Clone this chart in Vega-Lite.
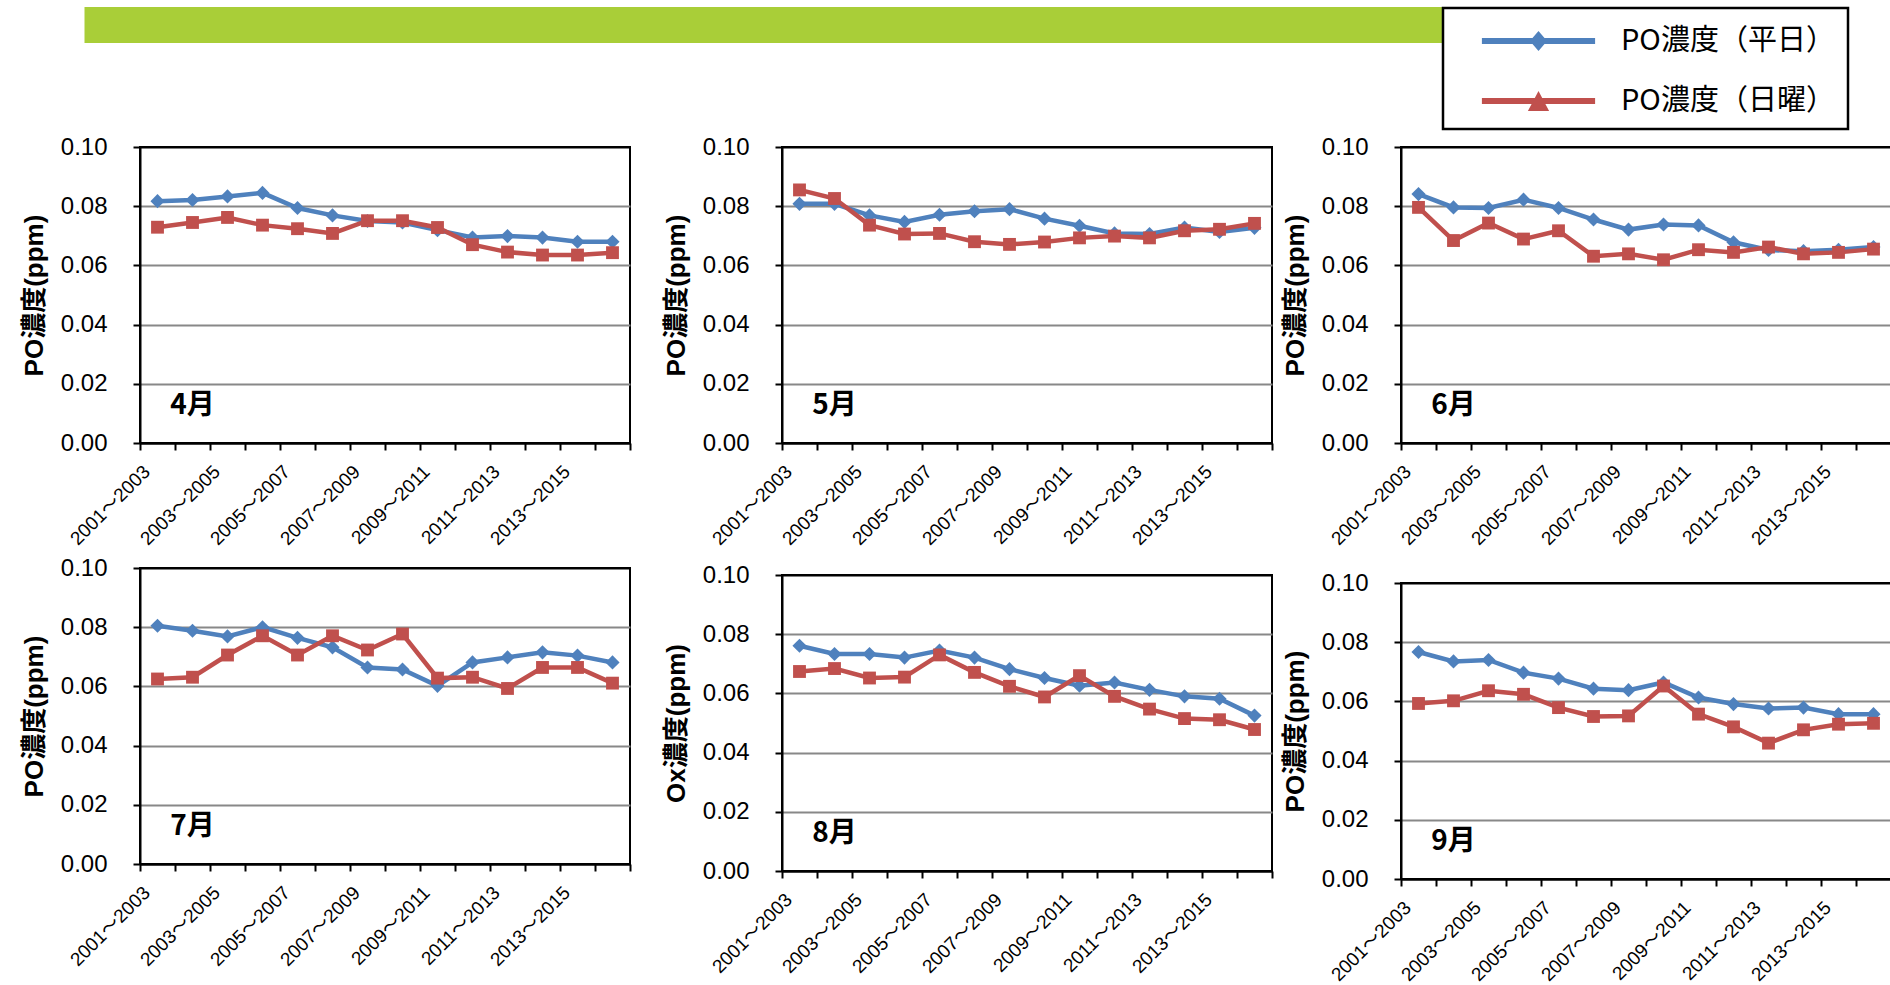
{
  "$schema": "https://vega.github.io/schema/vega-lite/v6.json",
  "background": "white",
  "padding": {"left": 13, "top": 6, "right": 0, "bottom": 0},
  "datasets": {
    "po": [
      {"month":"4月","period":"2001～2003","PO濃度（平日）":0.0817,"PO濃度（日曜）":0.0729},
      {"month":"4月","period":"2002～2004","PO濃度（平日）":0.0821,"PO濃度（日曜）":0.0745},
      {"month":"4月","period":"2003～2005","PO濃度（平日）":0.0833,"PO濃度（日曜）":0.0762},
      {"month":"4月","period":"2004～2006","PO濃度（平日）":0.0845,"PO濃度（日曜）":0.0736},
      {"month":"4月","period":"2005～2007","PO濃度（平日）":0.0794,"PO濃度（日曜）":0.0724},
      {"month":"4月","period":"2006～2008","PO濃度（平日）":0.0769,"PO濃度（日曜）":0.0708},
      {"month":"4月","period":"2007～2009","PO濃度（平日）":0.0750,"PO濃度（日曜）":0.0751},
      {"month":"4月","period":"2008～2010","PO濃度（平日）":0.0745,"PO濃度（日曜）":0.0751},
      {"month":"4月","period":"2009～2011","PO濃度（平日）":0.0719,"PO濃度（日曜）":0.0728},
      {"month":"4月","period":"2010～2012","PO濃度（平日）":0.0694,"PO濃度（日曜）":0.0670},
      {"month":"4月","period":"2011～2013","PO濃度（平日）":0.0699,"PO濃度（日曜）":0.0645},
      {"month":"4月","period":"2012～2014","PO濃度（平日）":0.0694,"PO濃度（日曜）":0.0635},
      {"month":"4月","period":"2013～2015","PO濃度（平日）":0.0680,"PO濃度（日曜）":0.0635},
      {"month":"4月","period":"2014～2016","PO濃度（平日）":0.0680,"PO濃度（日曜）":0.0643},
      {"month":"5月","period":"2001～2003","PO濃度（平日）":0.0808,"PO濃度（日曜）":0.0855},
      {"month":"5月","period":"2002～2004","PO濃度（平日）":0.0808,"PO濃度（日曜）":0.0826},
      {"month":"5月","period":"2003～2005","PO濃度（平日）":0.0769,"PO濃度（日曜）":0.0736},
      {"month":"5月","period":"2004～2006","PO濃度（平日）":0.0747,"PO濃度（日曜）":0.0706},
      {"month":"5月","period":"2005～2007","PO濃度（平日）":0.0771,"PO濃度（日曜）":0.0708},
      {"month":"5月","period":"2006～2008","PO濃度（平日）":0.0783,"PO濃度（日曜）":0.0680},
      {"month":"5月","period":"2007～2009","PO濃度（平日）":0.0790,"PO濃度（日曜）":0.0671},
      {"month":"5月","period":"2008～2010","PO濃度（平日）":0.0758,"PO濃度（日曜）":0.0679},
      {"month":"5月","period":"2009～2011","PO濃度（平日）":0.0734,"PO濃度（日曜）":0.0693},
      {"month":"5月","period":"2010～2012","PO濃度（平日）":0.0708,"PO濃度（日曜）":0.0699},
      {"month":"5月","period":"2011～2013","PO濃度（平日）":0.0706,"PO濃度（日曜）":0.0693},
      {"month":"5月","period":"2012～2014","PO濃度（平日）":0.0728,"PO濃度（日曜）":0.0717},
      {"month":"5月","period":"2013～2015","PO濃度（平日）":0.0713,"PO濃度（日曜）":0.0722},
      {"month":"5月","period":"2014～2016","PO濃度（平日）":0.0727,"PO濃度（日曜）":0.0742},
      {"month":"6月","period":"2001～2003","PO濃度（平日）":0.0841,"PO濃度（日曜）":0.0796},
      {"month":"6月","period":"2002～2004","PO濃度（平日）":0.0796,"PO濃度（日曜）":0.0684},
      {"month":"6月","period":"2003～2005","PO濃度（平日）":0.0794,"PO濃度（日曜）":0.0743},
      {"month":"6月","period":"2004～2006","PO濃度（平日）":0.0822,"PO濃度（日曜）":0.0689},
      {"month":"6月","period":"2005～2007","PO濃度（平日）":0.0794,"PO濃度（日曜）":0.0717},
      {"month":"6月","period":"2006～2008","PO濃度（平日）":0.0755,"PO濃度（日曜）":0.0631},
      {"month":"6月","period":"2007～2009","PO濃度（平日）":0.0721,"PO濃度（日曜）":0.0639},
      {"month":"6月","period":"2008～2010","PO濃度（平日）":0.0738,"PO濃度（日曜）":0.0619},
      {"month":"6月","period":"2009～2011","PO濃度（平日）":0.0735,"PO濃度（日曜）":0.0653},
      {"month":"6月","period":"2010～2012","PO濃度（平日）":0.0678,"PO濃度（日曜）":0.0644},
      {"month":"6月","period":"2011～2013","PO濃度（平日）":0.0652,"PO濃度（日曜）":0.0662},
      {"month":"6月","period":"2012～2014","PO濃度（平日）":0.0648,"PO濃度（日曜）":0.0639},
      {"month":"6月","period":"2013～2015","PO濃度（平日）":0.0653,"PO濃度（日曜）":0.0644},
      {"month":"6月","period":"2014～2016","PO濃度（平日）":0.0662,"PO濃度（日曜）":0.0655},
      {"month":"7月","period":"2001～2003","PO濃度（平日）":0.0805,"PO濃度（日曜）":0.0625},
      {"month":"7月","period":"2002～2004","PO濃度（平日）":0.0788,"PO濃度（日曜）":0.0631},
      {"month":"7月","period":"2003～2005","PO濃度（平日）":0.0769,"PO濃度（日曜）":0.0706},
      {"month":"7月","period":"2004～2006","PO濃度（平日）":0.0800,"PO濃度（日曜）":0.0771},
      {"month":"7月","period":"2005～2007","PO濃度（平日）":0.0764,"PO濃度（日曜）":0.0706},
      {"month":"7月","period":"2006～2008","PO濃度（平日）":0.0732,"PO濃度（日曜）":0.0771},
      {"month":"7月","period":"2007～2009","PO濃度（平日）":0.0664,"PO濃度（日曜）":0.0723},
      {"month":"7月","period":"2008～2010","PO濃度（平日）":0.0657,"PO濃度（日曜）":0.0777},
      {"month":"7月","period":"2009～2011","PO濃度（平日）":0.0602,"PO濃度（日曜）":0.0628},
      {"month":"7月","period":"2010～2012","PO濃度（平日）":0.0681,"PO濃度（日曜）":0.0631},
      {"month":"7月","period":"2011～2013","PO濃度（平日）":0.0698,"PO濃度（日曜）":0.0593},
      {"month":"7月","period":"2012～2014","PO濃度（平日）":0.0715,"PO濃度（日曜）":0.0664},
      {"month":"7月","period":"2013～2015","PO濃度（平日）":0.0704,"PO濃度（日曜）":0.0664},
      {"month":"7月","period":"2014～2016","PO濃度（平日）":0.0681,"PO濃度（日曜）":0.0611},
      {"month":"8月","period":"2001～2003","PO濃度（平日）":0.0761,"PO濃度（日曜）":0.0674},
      {"month":"8月","period":"2002～2004","PO濃度（平日）":0.0733,"PO濃度（日曜）":0.0684},
      {"month":"8月","period":"2003～2005","PO濃度（平日）":0.0733,"PO濃度（日曜）":0.0652},
      {"month":"8月","period":"2004～2006","PO濃度（平日）":0.0721,"PO濃度（日曜）":0.0655},
      {"month":"8月","period":"2005～2007","PO濃度（平日）":0.0745,"PO濃度（日曜）":0.0730},
      {"month":"8月","period":"2006～2008","PO濃度（平日）":0.0721,"PO濃度（日曜）":0.0671},
      {"month":"8月","period":"2007～2009","PO濃度（平日）":0.0682,"PO濃度（日曜）":0.0624},
      {"month":"8月","period":"2008～2010","PO濃度（平日）":0.0652,"PO濃度（日曜）":0.0588},
      {"month":"8月","period":"2009～2011","PO濃度（平日）":0.0626,"PO濃度（日曜）":0.0660},
      {"month":"8月","period":"2010～2012","PO濃度（平日）":0.0637,"PO濃度（日曜）":0.0590},
      {"month":"8月","period":"2011～2013","PO濃度（平日）":0.0612,"PO濃度（日曜）":0.0547},
      {"month":"8月","period":"2012～2014","PO濃度（平日）":0.0590,"PO濃度（日曜）":0.0515},
      {"month":"8月","period":"2013～2015","PO濃度（平日）":0.0582,"PO濃度（日曜）":0.0511},
      {"month":"8月","period":"2014～2016","PO濃度（平日）":0.0525,"PO濃度（日曜）":0.0478},
      {"month":"9月","period":"2001～2003","PO濃度（平日）":0.0767,"PO濃度（日曜）":0.0593},
      {"month":"9月","period":"2002～2004","PO濃度（平日）":0.0735,"PO濃度（日曜）":0.0602},
      {"month":"9月","period":"2003～2005","PO濃度（平日）":0.0740,"PO濃度（日曜）":0.0636},
      {"month":"9月","period":"2004～2006","PO濃度（平日）":0.0697,"PO濃度（日曜）":0.0624},
      {"month":"9月","period":"2005～2007","PO濃度（平日）":0.0677,"PO濃度（日曜）":0.0579},
      {"month":"9月","period":"2006～2008","PO濃度（平日）":0.0643,"PO濃度（日曜）":0.0549},
      {"month":"9月","period":"2007～2009","PO濃度（平日）":0.0638,"PO濃度（日曜）":0.0551},
      {"month":"9月","period":"2008～2010","PO濃度（平日）":0.0664,"PO濃度（日曜）":0.0652},
      {"month":"9月","period":"2009～2011","PO濃度（平日）":0.0613,"PO濃度（日曜）":0.0557},
      {"month":"9月","period":"2010～2012","PO濃度（平日）":0.0591,"PO濃度（日曜）":0.0514},
      {"month":"9月","period":"2011～2013","PO濃度（平日）":0.0576,"PO濃度（日曜）":0.0459},
      {"month":"9月","period":"2012～2014","PO濃度（平日）":0.0579,"PO濃度（日曜）":0.0504},
      {"month":"9月","period":"2013～2015","PO濃度（平日）":0.0557,"PO濃度（日曜）":0.0523},
      {"month":"9月","period":"2014～2016","PO濃度（平日）":0.0557,"PO濃度（日曜）":0.0526}
    ]
  },
  "spacing": 91,
  "center": true,
  "vconcat": [
    {
      "width": 1740, "height": 36,
      "data": {"values": [{}]},
      "view": {"stroke": null, "fill": "#A9CE38"},
      "mark": {"type": "point", "opacity": 0},
      "encoding": {}
    },
    {
      "spacing": 0,
      "hconcat": [
        {
          "width": 1, "height": 10,
          "data": {"values": [{}]},
          "view": {"stroke": null},
          "mark": {"type": "point", "opacity": 0},
          "encoding": {}
        },
        {
          "spacing": 30,
          "hconcat": [
            {
              "spacing": 5,
              "vconcat": [
                {
                  "width": 490, "height": 296, "data": {"name": "po"},
                  "layer": [
                    {
                      "transform": [{"filter": {"field": "month", "equal": "4月"}}, {"fold": ["PO濃度（平日）", "PO濃度（日曜）"], "as": ["series", "value"]}],
                      "layer": [
                        {"mark": {"type": "line", "strokeWidth": 4.5}, "encoding": {
                          "x": {"field": "period", "type": "ordinal", "title": null, "scale": {"type": "band", "domain": ["2001～2003","2002～2004","2003～2005","2004～2006","2005～2007","2006～2008","2007～2009","2008～2010","2009～2011","2010～2012","2011～2013","2012～2014","2013～2015","2014～2016"], "paddingInner": 0, "paddingOuter": 0}, "axis": {"labelExpr": "toNumber(substring(datum.value, 0, 4)) % 2 == 1 ? datum.label : ''", "tickBand": "extent"}},
                          "y": {"field": "value", "type": "quantitative", "title": "PO濃度(ppm)", "scale": {"domain": [0, 0.1], "nice": false}, "axis": {"values": [0, 0.02, 0.04, 0.06, 0.08, 0.1], "format": ".2f", "gridColor": {"condition": {"test": "datum.value <= 0 || datum.value >= 0.1", "value": "black"}, "value": "#888888"}}},
                          "color": {"field": "series", "type": "nominal", "scale": {"domain": ["PO濃度（平日）", "PO濃度（日曜）"], "range": ["#4F81BD", "#C0504D"]},
                            "legend": {
                              "title": null, "orient": "none", "legendX": 1427, "legendY": 1, "direction": "vertical",
                              "padding": 13, "strokeColor": "black", "fillColor": "white",
                              "symbolSize": 1600, "symbolOffset": 62.5, "labelOffset": 62.5, "rowPadding": 25,
                              "labelFont": "Noto Sans CJK JP", "labelFontSize": 29, "labelColor": "black", "labelLimit": 400,
                              "labelExpr": "datum.label + '\u3000'",
                              "encode": {
                                "legend": {"update": {"strokeWidth": {"value": 2.5}}},
                                "symbols": {"update": {
                                  "shape": {"signal": "datum.value === 'PO濃度（平日）' ? 'M-2.83,-0.15H2.83V0.15H-2.83Z M0,-0.5L0.43,0L0,0.5L-0.43,0Z' : 'M-2.83,-0.15H2.83V0.15H-2.83Z M0,-0.5L0.53,0.5L-0.53,0.5Z'"},
                                  "fill": {"signal": "datum.value === 'PO濃度（平日）' ? '#4F81BD' : '#C0504D'"},
                                  "strokeWidth": {"value": 0},
                                  "opacity": {"value": 1}
                                }}
                              }
                            }
                          }
                        }},
                        {"transform": [{"filter": {"field": "series", "equal": "PO濃度（平日）"}}], "mark": {"type": "point", "shape": "diamond", "filled": true, "opacity": 1, "size": 200, "strokeWidth": 0, "color": "#4F81BD"}, "encoding": {
                          "x": {"field": "period", "type": "ordinal", "title": null},
                          "y": {"field": "value", "type": "quantitative", "title": "PO濃度(ppm)"}
                        }},
                        {"transform": [{"filter": {"field": "series", "equal": "PO濃度（日曜）"}}], "mark": {"type": "point", "shape": "square", "filled": true, "opacity": 1, "size": 165, "strokeWidth": 0, "color": "#C0504D"}, "encoding": {
                          "x": {"field": "period", "type": "ordinal", "title": null},
                          "y": {"field": "value", "type": "quantitative", "title": "PO濃度(ppm)"}
                        }}
                      ]
                    },
                    {"data": {"values": [{"label": "4月"}]}, "mark": {"type": "text", "font": "Noto Sans CJK JP", "fontSize": 28, "fontWeight": "bold", "color": "black", "align": "center", "baseline": "middle"},
                     "encoding": {"x": {"datum": "2002～2004", "type": "ordinal"}, "y": {"datum": 0.0125, "type": "quantitative"}, "text": {"field": "label", "type": "nominal"}}}
                  ]
                },
                {
                  "width": 490, "height": 296, "data": {"name": "po"},
                  "layer": [
                    {
                      "transform": [{"filter": {"field": "month", "equal": "7月"}}, {"fold": ["PO濃度（平日）", "PO濃度（日曜）"], "as": ["series", "value"]}],
                      "layer": [
                        {"mark": {"type": "line", "strokeWidth": 4.5}, "encoding": {
                          "x": {"field": "period", "type": "ordinal", "title": null, "scale": {"type": "band", "domain": ["2001～2003","2002～2004","2003～2005","2004～2006","2005～2007","2006～2008","2007～2009","2008～2010","2009～2011","2010～2012","2011～2013","2012～2014","2013～2015","2014～2016"], "paddingInner": 0, "paddingOuter": 0}, "axis": {"labelExpr": "toNumber(substring(datum.value, 0, 4)) % 2 == 1 ? datum.label : ''", "tickBand": "extent"}},
                          "y": {"field": "value", "type": "quantitative", "title": "PO濃度(ppm)", "scale": {"domain": [0, 0.1], "nice": false}, "axis": {"values": [0, 0.02, 0.04, 0.06, 0.08, 0.1], "format": ".2f", "gridColor": {"condition": {"test": "datum.value <= 0 || datum.value >= 0.1", "value": "black"}, "value": "#888888"}}},
                          "color": {"field": "series", "type": "nominal"}
                        }},
                        {"transform": [{"filter": {"field": "series", "equal": "PO濃度（平日）"}}], "mark": {"type": "point", "shape": "diamond", "filled": true, "opacity": 1, "size": 200, "strokeWidth": 0, "color": "#4F81BD"}, "encoding": {
                          "x": {"field": "period", "type": "ordinal", "title": null},
                          "y": {"field": "value", "type": "quantitative", "title": "PO濃度(ppm)"}
                        }},
                        {"transform": [{"filter": {"field": "series", "equal": "PO濃度（日曜）"}}], "mark": {"type": "point", "shape": "square", "filled": true, "opacity": 1, "size": 165, "strokeWidth": 0, "color": "#C0504D"}, "encoding": {
                          "x": {"field": "period", "type": "ordinal", "title": null},
                          "y": {"field": "value", "type": "quantitative", "title": "PO濃度(ppm)"}
                        }}
                      ]
                    },
                    {"data": {"values": [{"label": "7月"}]}, "mark": {"type": "text", "font": "Noto Sans CJK JP", "fontSize": 28, "fontWeight": "bold", "color": "black", "align": "center", "baseline": "middle"},
                     "encoding": {"x": {"datum": "2002～2004", "type": "ordinal"}, "y": {"datum": 0.0125, "type": "quantitative"}, "text": {"field": "label", "type": "nominal"}}}
                  ]
                }
              ]
            },
            {
              "spacing": 7,
              "hconcat": [
                {
                  "spacing": 12,
                  "vconcat": [
                    {
                      "width": 490, "height": 296, "data": {"name": "po"},
                      "layer": [
                        {
                          "transform": [{"filter": {"field": "month", "equal": "5月"}}, {"fold": ["PO濃度（平日）", "PO濃度（日曜）"], "as": ["series", "value"]}],
                          "layer": [
                            {"mark": {"type": "line", "strokeWidth": 4.5}, "encoding": {
                              "x": {"field": "period", "type": "ordinal", "title": null, "scale": {"type": "band", "domain": ["2001～2003","2002～2004","2003～2005","2004～2006","2005～2007","2006～2008","2007～2009","2008～2010","2009～2011","2010～2012","2011～2013","2012～2014","2013～2015","2014～2016"], "paddingInner": 0, "paddingOuter": 0}, "axis": {"labelExpr": "toNumber(substring(datum.value, 0, 4)) % 2 == 1 ? datum.label : ''", "tickBand": "extent"}},
                              "y": {"field": "value", "type": "quantitative", "title": "PO濃度(ppm)", "scale": {"domain": [0, 0.1], "nice": false}, "axis": {"values": [0, 0.02, 0.04, 0.06, 0.08, 0.1], "format": ".2f", "gridColor": {"condition": {"test": "datum.value <= 0 || datum.value >= 0.1", "value": "black"}, "value": "#888888"}}},
                              "color": {"field": "series", "type": "nominal"}
                            }},
                            {"transform": [{"filter": {"field": "series", "equal": "PO濃度（平日）"}}], "mark": {"type": "point", "shape": "diamond", "filled": true, "opacity": 1, "size": 200, "strokeWidth": 0, "color": "#4F81BD"}, "encoding": {
                              "x": {"field": "period", "type": "ordinal", "title": null},
                              "y": {"field": "value", "type": "quantitative", "title": "PO濃度(ppm)"}
                            }},
                            {"transform": [{"filter": {"field": "series", "equal": "PO濃度（日曜）"}}], "mark": {"type": "point", "shape": "square", "filled": true, "opacity": 1, "size": 165, "strokeWidth": 0, "color": "#C0504D"}, "encoding": {
                              "x": {"field": "period", "type": "ordinal", "title": null},
                              "y": {"field": "value", "type": "quantitative", "title": "PO濃度(ppm)"}
                            }}
                          ]
                        },
                        {"data": {"values": [{"label": "5月"}]}, "mark": {"type": "text", "font": "Noto Sans CJK JP", "fontSize": 28, "fontWeight": "bold", "color": "black", "align": "center", "baseline": "middle"},
                         "encoding": {"x": {"datum": "2002～2004", "type": "ordinal"}, "y": {"datum": 0.0125, "type": "quantitative"}, "text": {"field": "label", "type": "nominal"}}}
                      ]
                    },
                    {
                      "width": 490, "height": 296, "data": {"name": "po"},
                      "layer": [
                        {
                          "transform": [{"filter": {"field": "month", "equal": "8月"}}, {"fold": ["PO濃度（平日）", "PO濃度（日曜）"], "as": ["series", "value"]}],
                          "layer": [
                            {"mark": {"type": "line", "strokeWidth": 4.5}, "encoding": {
                              "x": {"field": "period", "type": "ordinal", "title": null, "scale": {"type": "band", "domain": ["2001～2003","2002～2004","2003～2005","2004～2006","2005～2007","2006～2008","2007～2009","2008～2010","2009～2011","2010～2012","2011～2013","2012～2014","2013～2015","2014～2016"], "paddingInner": 0, "paddingOuter": 0}, "axis": {"labelExpr": "toNumber(substring(datum.value, 0, 4)) % 2 == 1 ? datum.label : ''", "tickBand": "extent"}},
                              "y": {"field": "value", "type": "quantitative", "title": "Ox濃度(ppm)", "scale": {"domain": [0, 0.1], "nice": false}, "axis": {"values": [0, 0.02, 0.04, 0.06, 0.08, 0.1], "format": ".2f", "gridColor": {"condition": {"test": "datum.value <= 0 || datum.value >= 0.1", "value": "black"}, "value": "#888888"}}},
                              "color": {"field": "series", "type": "nominal"}
                            }},
                            {"transform": [{"filter": {"field": "series", "equal": "PO濃度（平日）"}}], "mark": {"type": "point", "shape": "diamond", "filled": true, "opacity": 1, "size": 200, "strokeWidth": 0, "color": "#4F81BD"}, "encoding": {
                              "x": {"field": "period", "type": "ordinal", "title": null},
                              "y": {"field": "value", "type": "quantitative", "title": "Ox濃度(ppm)"}
                            }},
                            {"transform": [{"filter": {"field": "series", "equal": "PO濃度（日曜）"}}], "mark": {"type": "point", "shape": "square", "filled": true, "opacity": 1, "size": 165, "strokeWidth": 0, "color": "#C0504D"}, "encoding": {
                              "x": {"field": "period", "type": "ordinal", "title": null},
                              "y": {"field": "value", "type": "quantitative", "title": "Ox濃度(ppm)"}
                            }}
                          ]
                        },
                        {"data": {"values": [{"label": "8月"}]}, "mark": {"type": "text", "font": "Noto Sans CJK JP", "fontSize": 28, "fontWeight": "bold", "color": "black", "align": "center", "baseline": "middle"},
                         "encoding": {"x": {"datum": "2002～2004", "type": "ordinal"}, "y": {"datum": 0.0125, "type": "quantitative"}, "text": {"field": "label", "type": "nominal"}}}
                      ]
                    }
                  ]
                },
                {
                  "spacing": 20,
                  "vconcat": [
                    {
                      "width": 490, "height": 296, "data": {"name": "po"},
                      "layer": [
                        {
                          "transform": [{"filter": {"field": "month", "equal": "6月"}}, {"fold": ["PO濃度（平日）", "PO濃度（日曜）"], "as": ["series", "value"]}],
                          "layer": [
                            {"mark": {"type": "line", "strokeWidth": 4.5}, "encoding": {
                              "x": {"field": "period", "type": "ordinal", "title": null, "scale": {"type": "band", "domain": ["2001～2003","2002～2004","2003～2005","2004～2006","2005～2007","2006～2008","2007～2009","2008～2010","2009～2011","2010～2012","2011～2013","2012～2014","2013～2015","2014～2016"], "paddingInner": 0, "paddingOuter": 0}, "axis": {"labelExpr": "toNumber(substring(datum.value, 0, 4)) % 2 == 1 ? datum.label : ''", "tickBand": "extent"}},
                              "y": {"field": "value", "type": "quantitative", "title": "PO濃度(ppm)", "scale": {"domain": [0, 0.1], "nice": false}, "axis": {"values": [0, 0.02, 0.04, 0.06, 0.08, 0.1], "format": ".2f", "gridColor": {"condition": {"test": "datum.value <= 0 || datum.value >= 0.1", "value": "black"}, "value": "#888888"}}},
                              "color": {"field": "series", "type": "nominal"}
                            }},
                            {"transform": [{"filter": {"field": "series", "equal": "PO濃度（平日）"}}], "mark": {"type": "point", "shape": "diamond", "filled": true, "opacity": 1, "size": 200, "strokeWidth": 0, "color": "#4F81BD"}, "encoding": {
                              "x": {"field": "period", "type": "ordinal", "title": null},
                              "y": {"field": "value", "type": "quantitative", "title": "PO濃度(ppm)"}
                            }},
                            {"transform": [{"filter": {"field": "series", "equal": "PO濃度（日曜）"}}], "mark": {"type": "point", "shape": "square", "filled": true, "opacity": 1, "size": 165, "strokeWidth": 0, "color": "#C0504D"}, "encoding": {
                              "x": {"field": "period", "type": "ordinal", "title": null},
                              "y": {"field": "value", "type": "quantitative", "title": "PO濃度(ppm)"}
                            }}
                          ]
                        },
                        {"data": {"values": [{"label": "6月"}]}, "mark": {"type": "text", "font": "Noto Sans CJK JP", "fontSize": 28, "fontWeight": "bold", "color": "black", "align": "center", "baseline": "middle"},
                         "encoding": {"x": {"datum": "2002～2004", "type": "ordinal"}, "y": {"datum": 0.0125, "type": "quantitative"}, "text": {"field": "label", "type": "nominal"}}}
                      ]
                    },
                    {
                      "width": 490, "height": 296, "data": {"name": "po"},
                      "layer": [
                        {
                          "transform": [{"filter": {"field": "month", "equal": "9月"}}, {"fold": ["PO濃度（平日）", "PO濃度（日曜）"], "as": ["series", "value"]}],
                          "layer": [
                            {"mark": {"type": "line", "strokeWidth": 4.5}, "encoding": {
                              "x": {"field": "period", "type": "ordinal", "title": null, "scale": {"type": "band", "domain": ["2001～2003","2002～2004","2003～2005","2004～2006","2005～2007","2006～2008","2007～2009","2008～2010","2009～2011","2010～2012","2011～2013","2012～2014","2013～2015","2014～2016"], "paddingInner": 0, "paddingOuter": 0}, "axis": {"labelExpr": "toNumber(substring(datum.value, 0, 4)) % 2 == 1 ? datum.label : ''", "tickBand": "extent"}},
                              "y": {"field": "value", "type": "quantitative", "title": "PO濃度(ppm)", "scale": {"domain": [0, 0.1], "nice": false}, "axis": {"values": [0, 0.02, 0.04, 0.06, 0.08, 0.1], "format": ".2f", "gridColor": {"condition": {"test": "datum.value <= 0 || datum.value >= 0.1", "value": "black"}, "value": "#888888"}}},
                              "color": {"field": "series", "type": "nominal"}
                            }},
                            {"transform": [{"filter": {"field": "series", "equal": "PO濃度（平日）"}}], "mark": {"type": "point", "shape": "diamond", "filled": true, "opacity": 1, "size": 200, "strokeWidth": 0, "color": "#4F81BD"}, "encoding": {
                              "x": {"field": "period", "type": "ordinal", "title": null},
                              "y": {"field": "value", "type": "quantitative", "title": "PO濃度(ppm)"}
                            }},
                            {"transform": [{"filter": {"field": "series", "equal": "PO濃度（日曜）"}}], "mark": {"type": "point", "shape": "square", "filled": true, "opacity": 1, "size": 165, "strokeWidth": 0, "color": "#C0504D"}, "encoding": {
                              "x": {"field": "period", "type": "ordinal", "title": null},
                              "y": {"field": "value", "type": "quantitative", "title": "PO濃度(ppm)"}
                            }}
                          ]
                        },
                        {"data": {"values": [{"label": "9月"}]}, "mark": {"type": "text", "font": "Noto Sans CJK JP", "fontSize": 28, "fontWeight": "bold", "color": "black", "align": "center", "baseline": "middle"},
                         "encoding": {"x": {"datum": "2002～2004", "type": "ordinal"}, "y": {"datum": 0.0125, "type": "quantitative"}, "text": {"field": "label", "type": "nominal"}}}
                      ]
                    }
                  ]
                }
              ]
            }
          ]
        }
      ]
    }
  ],
  "config": {
    "view": {"stroke": "black", "strokeWidth": 2},
    "font": "Liberation Sans",
    "axis": {"domainColor": "black", "domainWidth": 2, "tickColor": "black", "tickWidth": 2, "tickSize": 7, "labelColor": "black", "titleColor": "black"},
    "axisX": {"labelFont": "Liberation Sans, Noto Sans CJK JP", "labelFontSize": 19, "labelAngle": -45, "labelPadding": 12, "labelOffset": -17.5, "labelOverlap": false, "grid": false},
    "axisY": {"labelFont": "Liberation Sans", "labelFontSize": 24, "labelPadding": 26, "titleFont": "Liberation Sans, Noto Sans CJK JP", "titleFontSize": 26, "titleFontWeight": "bold", "titlePadding": 13, "gridWidth": 2}
  }
}
